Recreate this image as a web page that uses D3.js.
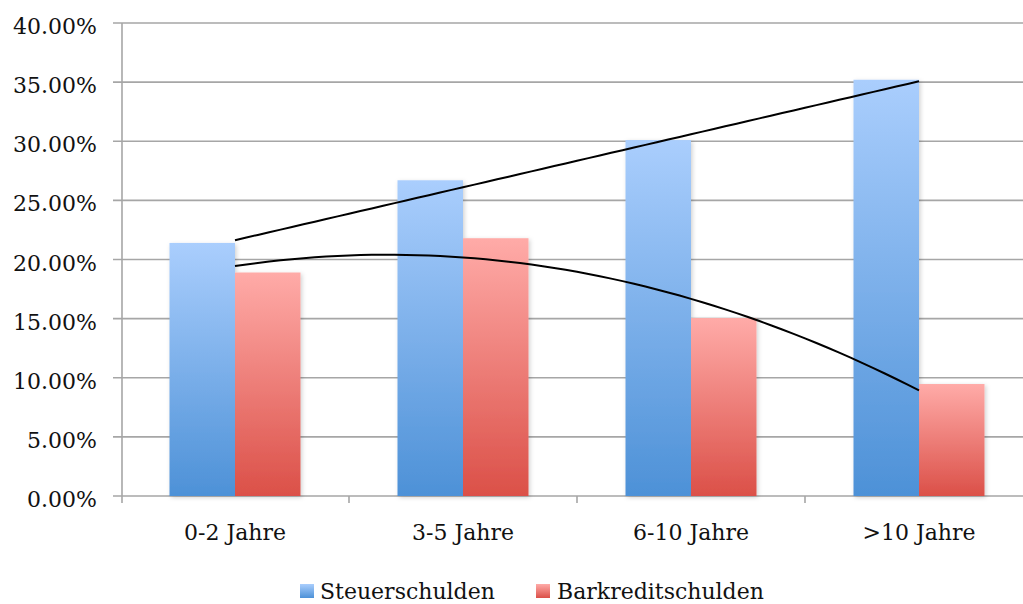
<!DOCTYPE html>
<html><head><meta charset="utf-8">
<script src="https://cdn.jsdelivr.net/npm/d3@7"></script>
<style>body{margin:0;background:#fff}svg{display:block}text{font-family:"DejaVu Serif",serif;fill:#111}</style>
</head><body><svg id="c" width="1023" height="604"></svg>
<script>
const categories = ["0-2 Jahre","3-5 Jahre","6-10 Jahre",">10 Jahre"];
const steuer = [0.214, 0.267, 0.301, 0.352];
const barkredit = [0.189, 0.218, 0.1505, 0.0947];
const seriesNames = ["Steuerschulden","Barkreditschulden"];
const yTicks = [0,0.05,0.10,0.15,0.20,0.25,0.30,0.35,0.40];

const svg = d3.select("#c");
const defs = svg.append("defs");
function grad(id, top, bot){
  const g = defs.append("linearGradient").attr("id",id).attr("x1",0).attr("y1",0).attr("x2",0).attr("y2",1);
  g.append("stop").attr("offset","0%").attr("stop-color",top);
  g.append("stop").attr("offset","100%").attr("stop-color",bot);
}
grad("gb","#aacefd","#4d91d7");
grad("gr","#ffaba8","#db5048");
const f = defs.append("filter").attr("id","sh").attr("x","-20%").attr("y","-5%").attr("width","140%").attr("height","115%");
f.append("feDropShadow").attr("dx",1.5).attr("dy",1.5).attr("stdDeviation",2).attr("flood-color","#000").attr("flood-opacity",0.18);

const x = d3.scaleBand().domain(categories).range([121,1033]).paddingInner(0).paddingOuter(0);
const y = d3.scaleLinear().domain([0,0.40]).range([496,23]);
const barW = 65.5;

// gridlines
svg.append("g").selectAll("line").data(yTicks).join("line")
  .attr("x1",113).attr("x2",1023).attr("y1",d=>y(d)).attr("y2",d=>y(d))
  .attr("stroke","#a6a6a6").attr("stroke-width",1.6);
// y axis line
svg.append("line").attr("x1",122).attr("x2",122).attr("y1",y(0.40)).attr("y2",503)
  .attr("stroke","#a6a6a6").attr("stroke-width",1.6);
// x ticks at band boundaries
const bounds = categories.map(c=>x(c)).concat([x(categories[3])+x.bandwidth()]);
svg.append("g").selectAll("line").data(bounds.slice(1)).join("line")
  .attr("x1",d=>d).attr("x2",d=>d).attr("y1",496).attr("y2",503)
  .attr("stroke","#a6a6a6").attr("stroke-width",1.6);

// y labels
const fmt = d=>(d*100).toFixed(2)+"%";
svg.append("g").selectAll("text").data(yTicks).join("text")
  .attr("x",97).attr("y",d=>y(d)+11).attr("text-anchor","end").attr("font-size",22).text(fmt);

// bars
const cx = c=>x(c)+x.bandwidth()/2;
const g = svg.append("g").attr("filter","url(#sh)");
g.selectAll("rect.b").data(categories).join("rect")
  .attr("x",(c)=>cx(c)-barW).attr("width",barW)
  .attr("y",(c,i)=>y(steuer[i])).attr("height",(c,i)=>y(0)-y(steuer[i]))
  .attr("fill","url(#gb)");
g.selectAll("rect.r").data(categories).join("rect")
  .attr("x",(c)=>cx(c)).attr("width",barW)
  .attr("y",(c,i)=>y(barkredit[i])).attr("height",(c,i)=>y(0)-y(barkredit[i]))
  .attr("fill","url(#gr)");

// trendlines
const xs = [1,2,3,4];
function linFit(ys){
  const mx=d3.mean(xs), my=d3.mean(ys);
  const b=d3.sum(xs,(v,i)=>(v-mx)*(ys[i]-my))/d3.sum(xs,v=>(v-mx)**2);
  return t=>my+b*(t-mx);
}
function polyFit(ys){
  const S=k=>d3.sum(xs,v=>v**k), T=k=>d3.sum(xs,(v,i)=>v**k*ys[i]);
  const A=[[S(0),S(1),S(2)],[S(1),S(2),S(3)],[S(2),S(3),S(4)]], B=[T(0),T(1),T(2)];
  const n=3;
  for(let i=0;i<n;i++){
    for(let j=i+1;j<n;j++){const m=A[j][i]/A[i][i];for(let k=i;k<n;k++)A[j][k]-=m*A[i][k];B[j]-=m*B[i];}
  }
  const c=[0,0,0];
  for(let i=n-1;i>=0;i--){let s=B[i];for(let k=i+1;k<n;k++)s-=A[i][k]*c[k];c[i]=s/A[i][i];}
  return t=>c[0]+c[1]*t+c[2]*t*t;
}
const tx = d3.scaleLinear().domain([1,4]).range([cx(categories[0]),cx(categories[3])]);
const lf = linFit(steuer), pf = polyFit(barkredit);
const samples = d3.range(1,4.0001,0.05);
const line = fn => d3.line().x(t=>tx(t)).y(t=>y(fn(t)))(samples);
svg.append("path").attr("d",line(lf)).attr("fill","none").attr("stroke","#000").attr("stroke-width",2);
svg.append("path").attr("d",line(pf)).attr("fill","none").attr("stroke","#000").attr("stroke-width",2);

// x labels
svg.append("g").selectAll("text").data(categories).join("text")
  .attr("x",cx).attr("y",540).attr("text-anchor","middle").attr("font-size",22).text(d=>d);

// legend
const leg = [{n:seriesNames[0],f:"url(#gb)",x:300,tx:320},{n:seriesNames[1],f:"url(#gr)",x:536,tx:557}];
const lg = svg.append("g");
lg.selectAll("rect").data(leg).join("rect").attr("x",d=>d.x).attr("y",584).attr("width",14).attr("height",14).attr("fill",d=>d.f);
lg.selectAll("text").data(leg).join("text").attr("x",d=>d.tx).attr("y",599).attr("font-size",22).text(d=>d.n);
</script></body></html>
